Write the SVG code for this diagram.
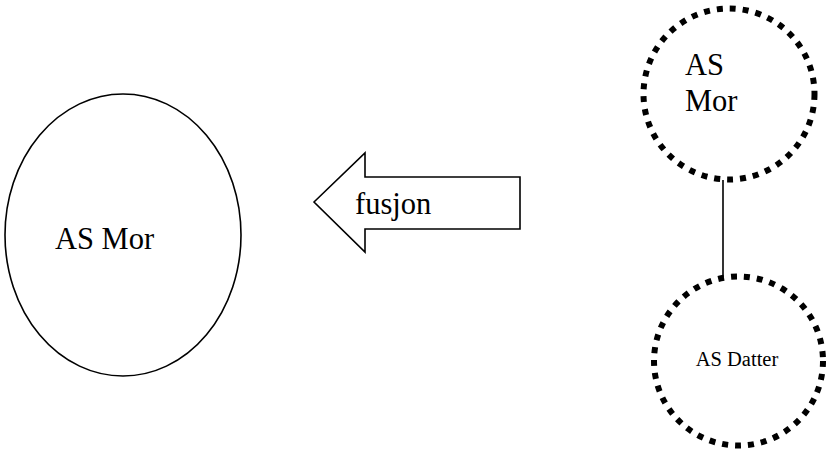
<svg xmlns="http://www.w3.org/2000/svg" width="830" height="450" viewBox="0 0 830 450">
  <style>
    .lbl { font-family: "Liberation Serif", "Times New Roman", serif; fill: #000; }
    .solid { fill: #fff; stroke: #000; stroke-width: 1.6; }
    .dotted { fill: #fff; stroke: #000; stroke-width: 6; stroke-dasharray: 6 7; }
    .link { stroke: #000; stroke-width: 1.6; fill: none; }
  </style>
  <rect width="830" height="450" fill="#fff"/>

  <g id="connectors">
    <line class="link" x1="723" y1="180" x2="723" y2="277"/>
  </g>

  <g id="node-merged">
    <ellipse class="solid" cx="123" cy="235" rx="118" ry="141"/>
    <text class="lbl" x="55" y="249" font-size="30.5">AS Mor</text>
  </g>

  <g id="node-fusion-arrow">
    <polygon class="solid" points="314,202 365,153 365,177 520,177 520,229 365,229 365,252"/>
    <text class="lbl" x="355" y="214" font-size="30.5">fusjon</text>
  </g>

  <g id="node-parent">
    <circle class="dotted" cx="729" cy="94" r="85.5"/>
    <text class="lbl" x="685" y="75" font-size="30.5">AS</text>
    <text class="lbl" x="685" y="111" font-size="30.5">Mor</text>
  </g>

  <g id="node-subsidiary">
    <circle class="dotted" cx="738.5" cy="361" r="84.5"/>
    <text class="lbl" x="737" y="366" font-size="20.5" text-anchor="middle">AS Datter</text>
  </g>
</svg>
